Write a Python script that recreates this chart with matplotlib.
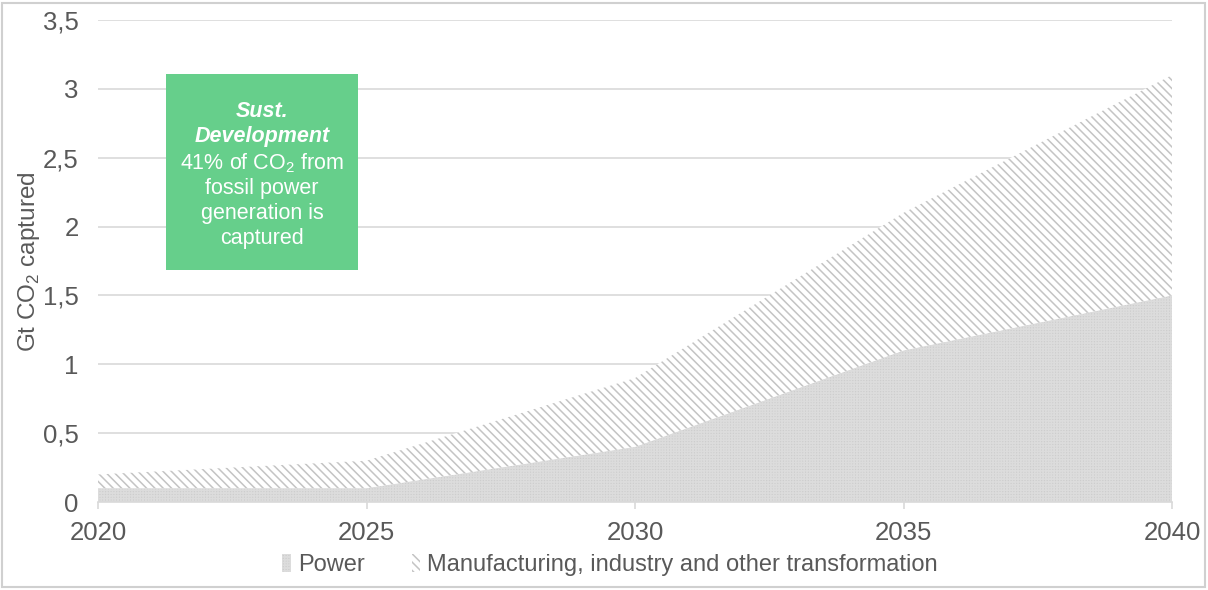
import matplotlib
matplotlib.use("Agg")
import matplotlib.pyplot as plt
from matplotlib.patches import Rectangle, Patch
import numpy as np

# CO2 captured, Gt, Sustainable Development scenario
years = [2020, 2025, 2030, 2035, 2040]
power = [0.1, 0.1, 0.4, 1.1, 1.5]
manufacturing = [0.1, 0.2, 0.5, 1.0, 1.6]
y_ticks = [0, 0.5, 1, 1.5, 2, 2.5, 3, 3.5]
series_names = ["Power", "Manufacturing, industry and other transformation"]

plt.rcParams["font.family"] = ["Liberation Sans", "DejaVu Sans"]
plt.rcParams["mathtext.fontset"] = "custom"
plt.rcParams["mathtext.rm"] = "Liberation Sans"
plt.rcParams["hatch.linewidth"] = 1.1

text_grey = "#595959"
line_grey = "#d9d9d9"
power_style = dict(facecolor="#cdcdcd", edgecolor="#dcdcdc", hatch="++++++", linewidth=0)
manu_style = dict(facecolor="white", edgecolor="#c4c4c4", hatch="\\\\\\\\", linewidth=0)

W, H = 1208, 590
fig = plt.figure(figsize=(W / 100, H / 100), dpi=100)
ax = fig.add_axes([98 / W, 1 - 502 / H, (1172 - 98) / W, (502 - 20) / H])

total = np.array(power) + np.array(manufacturing)

ax.fill_between(years, 0, power, zorder=2, **power_style)
ax.fill_between(years, power, total, zorder=2, **manu_style)

ax.set_xlim(2020, 2040)
ax.set_ylim(0, 3.5)
ax.set_xticks(years)
ax.set_yticks(y_ticks)
ax.set_yticklabels([f"{v:g}".replace(".", ",") for v in y_ticks])
ax.grid(axis="y", color=line_grey, linewidth=1.2)
ax.set_axisbelow(True)

for side in ["top", "right", "left"]:
    ax.spines[side].set_visible(False)
ax.spines["bottom"].set_color(line_grey)
ax.spines["bottom"].set_linewidth(1.2)
ax.spines["bottom"].set_zorder(3)
ax.tick_params(axis="x", colors=line_grey, length=5, width=1.2, labelcolor=text_grey,
               labelsize=18.5, pad=9)
ax.tick_params(axis="y", length=0, labelcolor=text_grey, labelsize=18.5, pad=14)

ax.set_ylabel(r"Gt CO$_\mathregular{2}$ captured", color=text_grey, fontsize=17.5)
ax.yaxis.set_label_coords(-(98 - 42) / (1172 - 98), (502 - 262) / (502 - 20))

handles = [Patch(**power_style), Patch(**manu_style)]
leg = fig.legend(handles, series_names, loc="center", bbox_to_anchor=(610 / W, 1 - 565 / H),
                 ncol=2, frameon=False, fontsize=17, handlelength=0.35, handleheight=0.8,
                 handletextpad=0.3, columnspacing=2.0)
for t in leg.get_texts():
    t.set_color(text_grey)

# scenario note box
fig.add_artist(Rectangle((166 / W, 1 - 270 / H), 192 / W, 196 / H, transform=fig.transFigure,
                         facecolor="#66cf8b", edgecolor="none", zorder=5))
fig.text(262 / W, 1 - 124 / H, "Sust.\nDevelopment", ha="center", va="center", color="white",
         fontsize=15.5, fontweight="bold", fontstyle="italic", linespacing=1.2, zorder=6)
fig.text(262 / W, 1 - 200 / H,
         "41% of CO$_\\mathregular{2}$ from\nfossil power\ngeneration is\ncaptured",
         ha="center", va="center", color="white", fontsize=15.5, linespacing=1.23, zorder=6)

fig.add_artist(Rectangle((2 / W, 3 / H), 1203 / W, 584 / H, transform=fig.transFigure,
                         fill=False, edgecolor="#d0d0d0", linewidth=1.5))

fig.savefig("out.png", dpi=100)
